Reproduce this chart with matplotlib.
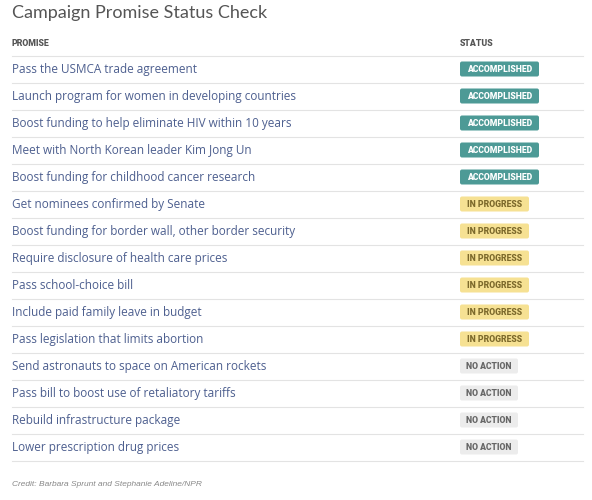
import matplotlib
matplotlib.use('Agg')
import matplotlib.pyplot as plt
from matplotlib.patches import FancyBboxPatch

# Table data
promises = [
    'Pass the USMCA trade agreement',
    'Launch program for women in developing countries',
    'Boost funding to help eliminate HIV within 10 years',
    'Meet with North Korean leader Kim Jong Un',
    'Boost funding for childhood cancer research',
    'Get nominees confirmed by Senate',
    'Boost funding for border wall, other border security',
    'Require disclosure of health care prices',
    'Pass school-choice bill',
    'Include paid family leave in budget',
    'Pass legislation that limits abortion',
    'Send astronauts to space on American rockets',
    'Pass bill to boost use of retaliatory tariffs',
    'Rebuild infrastructure package',
    'Lower prescription drug prices',
]
statuses = ['ACCOMPLISHED'] * 5 + ['IN PROGRESS'] * 6 + ['NO ACTION'] * 4

# badge styles: (fill, text colour, width px)
badge_style = {
    'ACCOMPLISHED': ('#4d9a96', '#ffffff', 79),
    'IN PROGRESS': ('#f6e193', '#7d6a2c', 69),
    'NO ACTION': ('#ececec', '#666666', 58),
}

W, H = 592, 500
fig = plt.figure(figsize=(W / 100, H / 100), dpi=100)
ax = fig.add_axes([0, 0, 1, 1])
ax.set_xlim(0, W)
ax.set_ylim(H, 0)
ax.axis('off')

left, status_x, right = 12, 460, 583
row_h = 27
first_row = 69

ax.text(left, 13, 'Campaign Promise Status Check', fontsize=13, color='#555555',
        family='Lato', va='center', ha='left')

ax.text(left, 44, 'PROMISE', fontsize=6.3, fontweight='heavy', color='#555555',
        family='Roboto', va='center')
ax.text(status_x, 44, 'STATUS', fontsize=6.3, fontweight='heavy', color='#555555',
        family='Roboto', va='center')
ax.plot([left, right], [56, 56], color='#e3e3e3', lw=0.8)

for i, (p, s) in enumerate(zip(promises, statuses)):
    y = first_row + i * row_h
    ax.text(left, y + 4, p, fontsize=8.5, color='#4d5f8f', family='Open Sans',
            va='baseline')
    fill, tc, bw = badge_style[s]
    ax.add_patch(FancyBboxPatch((status_x, y - 7.5), bw, 15,
                                boxstyle='round,pad=0,rounding_size=2',
                                fc=fill, ec='none'))
    ax.text(status_x + bw / 2, y + 0.5, s, fontsize=6.2, fontweight='heavy',
            color=tc, family='Roboto', va='center', ha='center')
    ax.plot([left, right], [y + row_h / 2, y + row_h / 2], color='#e3e3e3', lw=0.8)

ax.text(left, 485, 'Credit: Barbara Sprunt and Stephanie Adeline/NPR', fontsize=6,
        style='italic', color='#888888', family='Liberation Sans', va='center')

fig.savefig('out.png', dpi=100)
